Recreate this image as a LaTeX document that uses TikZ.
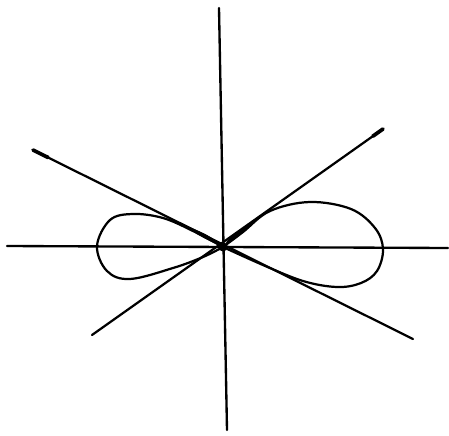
\documentclass[tikz,border=0pt]{standalone}
\usetikzlibrary{calc}
\begin{document}
\begin{tikzpicture}[x=0.03cm, y=0.03cm, line cap=round, line join=round]

  % --- 0. 描画範囲 ---
  \useasboundingbox (-223,-188) rectangle (226,247);

  % --- 1. 座標軸の描画 ---
  \coordinate (O) at (0,0);
  \coordinate (xl) at (-216,1);
  \coordinate (xr) at (225,-1);
  \coordinate (yt) at (-4,239);
  \coordinate (yb) at (4,-183);
  \draw[line width=2pt] (xl) -- (xr);
  \draw[line width=2pt] (yt) -- (yb);

  % --- 2. 原点での接線 (2本) ---
  \coordinate (t1a) at (-190,97);
  \coordinate (t1b) at (190,-92);
  \coordinate (t2a) at (-131,-88);
  \coordinate (t2b) at (160,118);
  \draw[line width=1.9pt] (t1a) -- (t1b);
  \draw[line width=1.9pt] (t2a) -- (t2b);
  % 線の先端 (ペンの溜まり)
  \draw[line width=3.2pt] (t1a) -- ($(t1a)!0.04!(t1b)$);
  \draw[line width=3.2pt] (t2b) -- ($(t2b)!0.035!(t2a)$);

  % --- 3. レムニスケート (右のループ・左のループ) ---
  % 右のループ
  \draw[line width=1.9pt] plot[smooth, tension=0.6] coordinates {
    (0,0) (20,15) (47,36) (87,45) (128,38) (152,19) (160,-2) (154,-24)
    (138,-36) (114,-40) (80,-34) (40,-18) (0,0)};
  % 左のループ
  \draw[line width=1.9pt] plot[smooth, tension=0.6] coordinates {
    (0,0) (-30,16) (-60,29) (-90,33) (-113,27) (-126,1) (-116,-24)
    (-93,-32) (-50,-21) (-20,-10) (0,0)};

  % 原点付近の太い部分
  \fill (O) circle (4.5);
  \fill (O) .. controls (8,12) .. (34,27) .. controls (14,9) .. (O);
  \fill (O) .. controls (-14,12) .. (-46,25) .. controls (-18,8) .. (O);

\end{tikzpicture}
\end{document}
